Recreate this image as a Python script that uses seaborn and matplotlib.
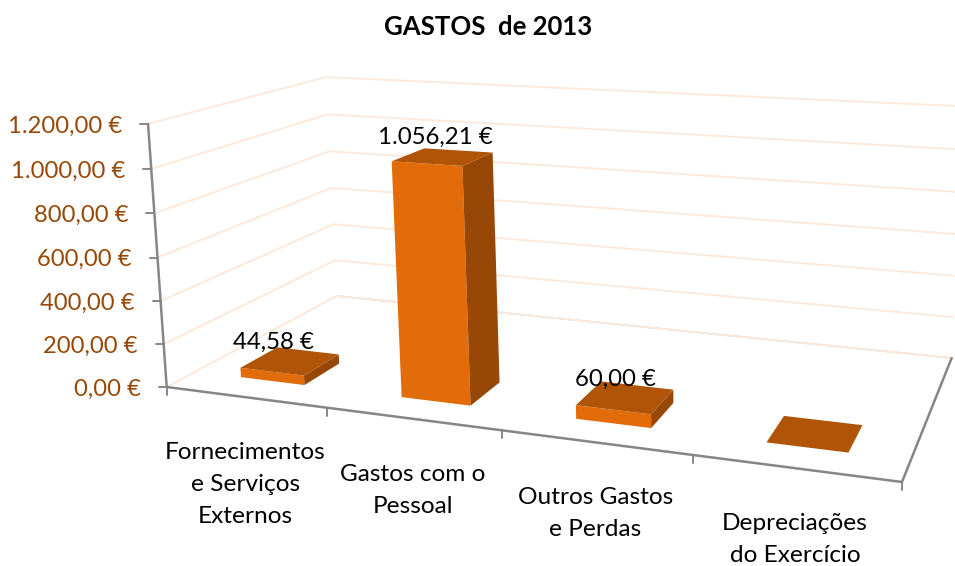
import numpy as np
import pandas as pd
import matplotlib
matplotlib.use("Agg")
import matplotlib.pyplot as plt
import seaborn as sns

categories = ["Fornecimentos\ne Serviços\nExternos", "Gastos com o\nPessoal",
              "Outros Gastos\ne Perdas", "Depreciações\ndo Exercício"]
values = [44.58, 1056.21, 60.00, 0.0]
value_labels = ["44,58 €", "1.056,21 €", "60,00 €", ""]
y_ticks = [0, 200, 400, 600, 800, 1000, 1200]
y_tick_labels = ["0,00 €", "200,00 €", "400,00 €", "600,00 €", "800,00 €", "1.000,00 €", "1.200,00 €"]
title = "GASTOS  de 2013"

Y_MAX = 1200.0
BAR_W = 0.405       # bar width, in category units
DEPTH = (0.145, 0.35)  # bar front / back, as a share of the floor depth
LABEL_OFFSETS = [(-17, -19), (-7, -20), (-10, -18), (0, 0)]  # pixels from the bar top

FONT = ["Lato", "DejaVu Sans"]
ORANGE = "#E36C0A"
TOP = "#B05407"
SIDE = "#974706"
TICK_TXT = "#984806"
GRID = "#FDE9D9"
AXIS = "#868686"

# floor corners in pixels: front-left, front-right, back-right, back-left
FLOOR_PX = [(166.7, 387.0), (902.0, 482.0), (951.7, 358.0), (336.7, 296.0)]
VANISH = (746.0, 8557.0)  # where the verticals meet
V_SCALE = -0.0312


def floor_matrix():
    # homography from (category, depth) to pixels
    src = [(0, 0), (len(categories), 0), (len(categories), 1), (0, 1)]
    A, b = [], []
    for (u, d), (x, y) in zip(src, FLOOR_PX):
        A.append([u, d, 1, 0, 0, 0, -u * x, -d * x])
        A.append([0, 0, 0, u, d, 1, -u * y, -d * y])
        b += [x, y]
    h = np.linalg.solve(np.array(A, float), np.array(b, float))
    return np.append(h, 1).reshape(3, 3)


H = floor_matrix()
V = V_SCALE * np.array([VANISH[0], VANISH[1], 1.0])


def project(u, d, val=0.0):
    p = H @ np.array([u, d, 1.0]) + (val / Y_MAX) * V
    return p[0] / p[2], p[1] / p[2]


def draw_line(ax, pts, color, lw, zorder=1):
    df = pd.DataFrame(pts, columns=["x", "y"])
    sns.lineplot(data=df, x="x", y="y", ax=ax, sort=False, estimator=None,
                 color=color, linewidth=lw, zorder=zorder, legend=False)


def draw_bar(ax, i, val):
    c = i + 0.5
    u0, u1 = c - BAR_W / 2, c + BAR_W / 2
    d0, d1 = DEPTH
    if val > 0:
        front = [project(u0, d0), project(u1, d0), project(u1, d0, val), project(u0, d0, val)]
        side = [project(u1, d0), project(u1, d1), project(u1, d1, val), project(u1, d0, val)]
        ax.fill(*zip(*front), color=ORANGE, lw=0, zorder=3)
        ax.fill(*zip(*side), color=SIDE, lw=0, zorder=3)
    top = [project(u0, d0, val), project(u1, d0, val), project(u1, d1, val), project(u0, d1, val)]
    ax.fill(*zip(*top), color=TOP, lw=0, zorder=3)


def main():
    sns.set_theme(style="white")
    plt.rcParams["font.family"] = FONT

    fig = plt.figure(figsize=(9.55, 5.66), dpi=100)
    ax = fig.add_axes([0, 0, 1, 1])
    ax.set_xlim(0, 955)
    ax.set_ylim(566, 0)
    ax.axis("off")

    n = len(categories)

    # walls
    draw_line(ax, [project(0, 1), project(n, 1)], "#A6A6A6", 1.0, zorder=0.9)
    for t in y_ticks:
        draw_line(ax, [project(0, 0, t), project(0, 1, t), project(n, 1, t)], GRID, 1.4)

    # axes
    draw_line(ax, [project(0, 0), project(0, 0, Y_MAX)], AXIS, 1.8, zorder=2)
    draw_line(ax, [project(0, 0), project(n, 0), project(n, 1)], AXIS, 1.8, zorder=2)
    for t, lab in zip(y_ticks, y_tick_labels):
        x, y = project(0, 0, t)
        draw_line(ax, [(x - 8, y), (x, y)], AXIS, 1.4, zorder=2)
        ax.text(x - 26, y + 2, lab, ha="right", va="center", fontsize=17.1, color=TICK_TXT)
    for i in range(n + 1):
        x, y = project(i, 0)
        draw_line(ax, [(x, y), (x, y + 8)], AXIS, 1.4, zorder=2)

    for i, val in enumerate(values):
        draw_bar(ax, i, val)

    for i, (lab, val) in enumerate(zip(value_labels, values)):
        if lab:
            x, y = project(i + 0.5, sum(DEPTH) / 2, val)
            dx, dy = LABEL_OFFSETS[i]
            ax.text(x + dx, y + dy, lab, ha="center", va="center", fontsize=17.3,
                    color="black", zorder=4)

    for i, lab in enumerate(categories):
        x, y = project(i + 0.5, 0)
        ax.text(x, y + 45, lab, ha="center", va="top", fontsize=17.6, color="black",
                linespacing=1.63, multialignment="center")

    ax.text(488, 27, title, ha="center", va="center", fontsize=18.5, fontweight="bold",
            color="black")

    fig.savefig("out.png", dpi=100)
    plt.close(fig)


if __name__ == "__main__":
    main()
